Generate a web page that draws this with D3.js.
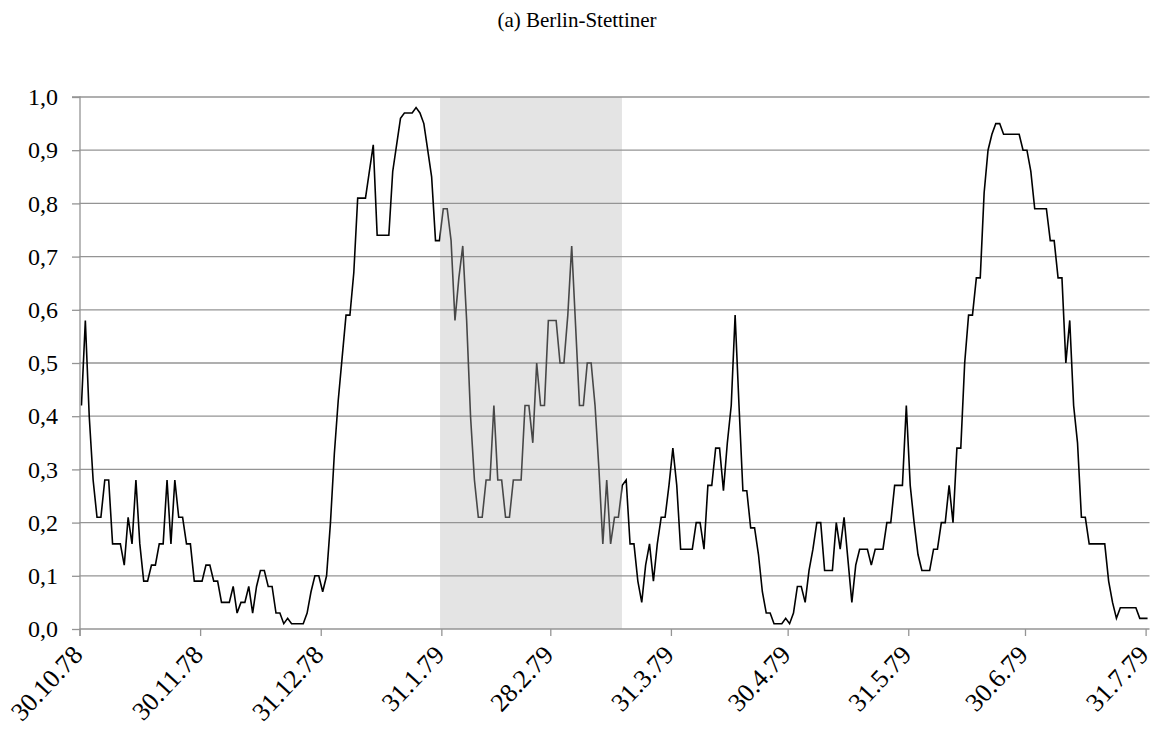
<!DOCTYPE html>
<html>
<head>
<meta charset="utf-8">
<script src="https://cdn.jsdelivr.net/npm/d3@7"></script>
<style>
  html, body { margin: 0; padding: 0; background: #fff; }
  svg { display: block; }
  text { font-family: "Liberation Serif", "Times New Roman", serif; fill: #000; }
</style>
</head>
<body>
<svg id="chart" width="1154" height="731"></svg>
<script>
// ---- data ----
const title = "(a) Berlin-Stettiner";
const startDate = "1978-10-30";          // first daily value
const endDate = "1979-08-01";            // end of axis (after last day)
const values = [
  0.42, 0.58, 0.40, 0.28, 0.21, 0.21, 0.28, 0.28, 0.16, 0.16,
  0.16, 0.12, 0.21, 0.16, 0.28, 0.16, 0.09, 0.09, 0.12, 0.12,
  0.16, 0.16, 0.28, 0.16, 0.28, 0.21, 0.21, 0.16, 0.16, 0.09,
  0.09, 0.09, 0.12, 0.12, 0.09, 0.09, 0.05, 0.05, 0.05, 0.08,
  0.03, 0.05, 0.05, 0.08, 0.03, 0.08, 0.11, 0.11, 0.08, 0.08,
  0.03, 0.03, 0.01, 0.02, 0.01, 0.01, 0.01, 0.01, 0.03, 0.07,
  0.10, 0.10, 0.07, 0.10, 0.20, 0.33, 0.43, 0.51, 0.59, 0.59,
  0.67, 0.81, 0.81, 0.81, 0.86, 0.91, 0.74, 0.74, 0.74, 0.74,
  0.86, 0.91, 0.96, 0.97, 0.97, 0.97, 0.98, 0.97, 0.95, 0.90,
  0.85, 0.73, 0.73, 0.79, 0.79, 0.73, 0.58, 0.66, 0.72, 0.58,
  0.40, 0.28, 0.21, 0.21, 0.28, 0.28, 0.42, 0.28, 0.28, 0.21,
  0.21, 0.28, 0.28, 0.28, 0.42, 0.42, 0.35, 0.50, 0.42, 0.42,
  0.58, 0.58, 0.58, 0.50, 0.50, 0.59, 0.72, 0.57, 0.42, 0.42,
  0.50, 0.50, 0.42, 0.30, 0.16, 0.28, 0.16, 0.21, 0.21, 0.27,
  0.28, 0.16, 0.16, 0.09, 0.05, 0.12, 0.16, 0.09, 0.16, 0.21,
  0.21, 0.27, 0.34, 0.27, 0.15, 0.15, 0.15, 0.15, 0.20, 0.20,
  0.15, 0.27, 0.27, 0.34, 0.34, 0.26, 0.35, 0.42, 0.59, 0.42,
  0.26, 0.26, 0.19, 0.19, 0.14, 0.07, 0.03, 0.03, 0.01, 0.01,
  0.01, 0.02, 0.01, 0.03, 0.08, 0.08, 0.05, 0.11, 0.15, 0.20,
  0.20, 0.11, 0.11, 0.11, 0.20, 0.15, 0.21, 0.13, 0.05, 0.12,
  0.15, 0.15, 0.15, 0.12, 0.15, 0.15, 0.15, 0.20, 0.20, 0.27,
  0.27, 0.27, 0.42, 0.27, 0.20, 0.14, 0.11, 0.11, 0.11, 0.15,
  0.15, 0.20, 0.20, 0.27, 0.20, 0.34, 0.34, 0.50, 0.59, 0.59,
  0.66, 0.66, 0.82, 0.90, 0.93, 0.95, 0.95, 0.93, 0.93, 0.93,
  0.93, 0.93, 0.90, 0.90, 0.86, 0.79, 0.79, 0.79, 0.79, 0.73,
  0.73, 0.66, 0.66, 0.50, 0.58, 0.42, 0.35, 0.21, 0.21, 0.16,
  0.16, 0.16, 0.16, 0.16, 0.09, 0.05, 0.02, 0.04, 0.04, 0.04,
  0.04, 0.04, 0.02, 0.02, 0.02
];
const tickDates = ["1978-10-30","1978-11-30","1978-12-31","1979-01-31","1979-02-28",
                   "1979-03-31","1979-04-30","1979-05-31","1979-06-30","1979-07-31"];
const tickLabels = ["30.10.78","30.11.78","31.12.78","31.1.79","28.2.79",
                    "31.3.79","30.4.79","31.5.79","30.6.79","31.7.79"];
const yTicks = [0,0.1,0.2,0.3,0.4,0.5,0.6,0.7,0.8,0.9,1.0];
const shadeRange = ["1979-01-30T16:00","1979-03-18T10:00"];

// ---- layout ----
const W = 1154, H = 731;
const m = { left: 79.5, right: 1149.5, top: 97, bottom: 629 };
const parse = s => new Date(s.length > 10 ? s : s + "T00:00");

const x = d3.scaleTime().domain([parse(startDate), parse(endDate)]).range([m.left, m.right]);
const y = d3.scaleLinear().domain([0, 1]).range([m.bottom, m.top]);

const data = values.map((v, i) => ({
  date: d3.timeHour.offset(d3.timeDay.offset(parse(startDate), i), 12),
  value: v
}));

const svg = d3.select("#chart");

// title
svg.append("text")
  .attr("x", 577).attr("y", 27)
  .attr("text-anchor", "middle")
  .style("font-size", "21px")
  .text(title);

// shade
const sx0 = x(parse(shadeRange[0])), sx1 = x(parse(shadeRange[1]));
svg.append("rect")
  .attr("x", sx0).attr("y", m.top).attr("width", sx1 - sx0).attr("height", m.bottom - m.top)
  .attr("fill", "#e4e4e4");

// gridlines
svg.append("g").selectAll("line").data(yTicks.filter(t => t > 0)).join("line")
  .attr("x1", m.left).attr("x2", m.right)
  .attr("y1", d => y(d)).attr("y2", d => y(d))
  .attr("stroke", "#949494").attr("stroke-width", 1.3);

// clip paths for line colouring
const defs = svg.append("defs");
defs.append("clipPath").attr("id", "inShade").append("rect")
  .attr("x", sx0).attr("y", 0).attr("width", sx1 - sx0).attr("height", H);
defs.append("clipPath").attr("id", "outShade").append("path")
  .attr("d", `M0,0H${sx0}V${H}H0Z M${sx1},0H${W}V${H}H${sx1}Z`);

const line = d3.line().x(d => x(d.date)).y(d => y(d.value));
svg.append("path").datum(data)
  .attr("d", line).attr("fill", "none")
  .attr("stroke", "#000").attr("stroke-width", 1.6)
  .attr("clip-path", "url(#outShade)");
svg.append("path").datum(data)
  .attr("d", line).attr("fill", "none")
  .attr("stroke", "#474747").attr("stroke-width", 1.6)
  .attr("clip-path", "url(#inShade)");

// y axis
const yAxis = d3.axisLeft(y).tickValues(yTicks)
  .tickFormat(d => d3.format(".1f")(d).replace(".", ","))
  .tickSize(8).tickPadding(14);
const gy = svg.append("g").attr("transform", `translate(${m.left + 0.5},0)`).call(yAxis);
gy.select(".domain").attr("stroke", "#949494").attr("stroke-width", 1.3)
  .attr("d", `M-8,${m.top}H0V${m.bottom + 7}`);
gy.selectAll(".tick line").attr("stroke", "#949494").attr("stroke-width", 1.3);
gy.selectAll(".tick text")
  .style("font-size", "24px")
  .style("font-family", "'Liberation Serif', 'Times New Roman', serif")
  .attr("fill", "#000");

// x axis
const xAxis = d3.axisBottom(x).tickValues(tickDates.map(parse))
  .tickFormat((d, i) => tickLabels[i]).tickSize(7);
const gx = svg.append("g").attr("transform", `translate(0,${m.bottom})`).call(xAxis);
gx.select(".domain").attr("stroke", "#949494").attr("stroke-width", 1.3)
  .attr("d", `M${m.left},0H${m.right}`);
gx.selectAll(".tick line").attr("stroke", "#949494").attr("stroke-width", 1.3);
gx.selectAll(".tick text")
  .style("font-size", "26px")
  .style("font-family", "'Liberation Serif', 'Times New Roman', serif")
  .attr("fill", "#000")
  .attr("text-anchor", "end")
  .attr("dy", "0")
  .attr("transform", "translate(4,27) rotate(-47)")
  .attr("y", 0).attr("x", 0);
</script>
</body>
</html>
